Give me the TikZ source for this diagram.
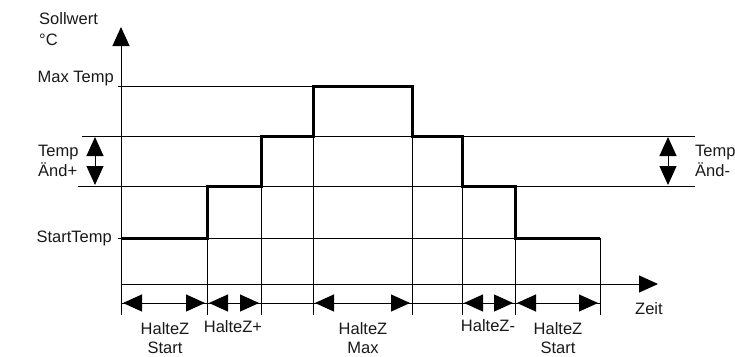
\documentclass[tikz,border=0pt]{standalone}
\usepackage{fontspec}
\setmainfont{Liberation Sans}
\usetikzlibrary{arrows.meta}
\begin{document}
\begin{tikzpicture}[x=1pt,y=-1pt,
  thinline/.style={line width=1pt},
  boldline/.style={line width=3pt, line join=miter},
  bigtip/.tip={Triangle[length=19pt,width=17pt]},
  dimarrow/.style={line width=1pt, {bigtip}-{bigtip}},
  lbl/.style={font=\fontsize{16.5}{19.5}\selectfont, inner sep=0pt, text=black!90}]
\useasboundingbox (0,0) rectangle (735,356);

% coordinates
\coordinate (ax0) at (121,315);
\coordinate (axtop) at (121,27);
\coordinate (xax0) at (121,284);
\coordinate (xaxend) at (658,284);

% horizontal level lines
\draw[thinline] (118,86) -- (313,86);
\draw[thinline] (82,136) -- (695,136);
\draw[thinline] (78,186) -- (695,186);
\draw[thinline] (118,238) -- (600,238);

% vertical lines
\foreach \x/\y in {207/186, 261/136, 313/86, 412/86, 462/136, 515/186, 600/238}
  \draw[thinline] (\x,\y) -- (\x,315);

% axes
\draw[thinline, -{bigtip}] (ax0) -- (axtop);
\draw[thinline, -{bigtip}] (xax0) -- (xaxend);

% dimension line
\draw[thinline] (121,303) -- (600,303);
\draw[dimarrow] (123,303) -- (205,303);
\draw[dimarrow] (209,303) -- (259,303);
\draw[dimarrow] (315,303) -- (410,303);
\draw[dimarrow] (464,303) -- (513,303);
\draw[dimarrow] (517,303) -- (598,303);

% Temp change arrows
\draw[dimarrow] (95,137) -- (95,185);
\draw[dimarrow] (668,137) -- (668,185);

% step profile
\draw[boldline] (121,238) -- (207,238) -- (207,186) -- (261,186) -- (261,136)
  -- (313,136) -- (313,86) -- (412,86) -- (412,136) -- (462,136) -- (462,186)
  -- (515,186) -- (515,238) -- (600,238);

% labels
\node[lbl, anchor=west] (soll) at (39,19) {Sollwert};
\node[lbl, anchor=west] (degc) at (39,40) {°C};
\node[lbl, anchor=east] (maxt) at (114,79) {Max Temp};
\node[lbl, anchor=west, align=left] (tplus) at (38,161) {Temp\\Änd+};
\node[lbl, anchor=east] (startt) at (112,238) {StartTemp};
\node[lbl, anchor=west, align=left] (tminus) at (695,161) {Temp\\Änd-};
\node[lbl, anchor=west] (zeit) at (635,309) {Zeit};
\node[lbl, align=center] (h1) at (165,338) {HalteZ\\Start};
\node[lbl] (h2) at (233,327) {HalteZ+};
\node[lbl, align=center] (h3) at (363,338) {HalteZ\\Max};
\node[lbl] (h4) at (488,326) {HalteZ-};
\node[lbl, align=center] (h5) at (558,338) {HalteZ\\Start};
\end{tikzpicture}
\end{document}
